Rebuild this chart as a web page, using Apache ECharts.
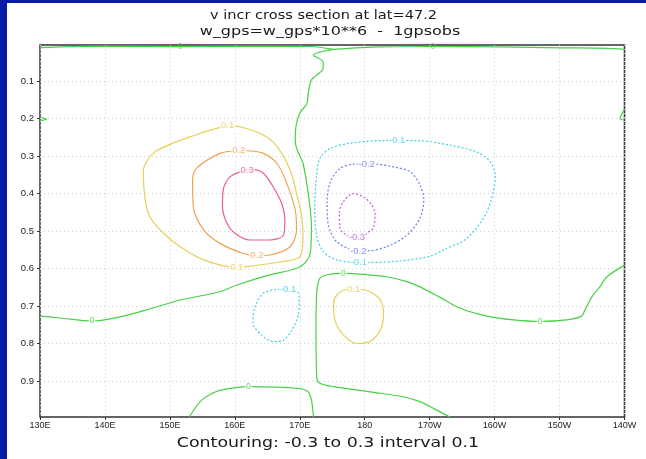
<!DOCTYPE html>
<html>
<head>
<meta charset="utf-8">
<script src="https://cdn.jsdelivr.net/npm/echarts@6/dist/echarts.min.js"></script>
<style>
  html, body { margin: 0; padding: 0; background: #fff; }
  #chart { width: 646px; height: 459px; }
</style>
</head>
<body>
<div id="chart"></div>
<script>
// Contour levels (interval 0.1) and the rainbow colour used for each level
const levels = [-0.3, -0.2, -0.1, 0, 0.1, 0.2, 0.3];
const levelColors = ['#c45ae4', '#6a7cf2', '#3ed0e4', '#46d246', '#e4d056', '#f0a252', '#ee5a94'];

// Axes: longitude (deg E, 130E..140W) and sigma level (0 at top)
const lonRange = [130, 220];
const lonStep = 10;
const sigmaRange = [0.004, 0.996];
const sigmaTicks = [0.1, 0.2, 0.3, 0.4, 0.5, 0.6, 0.7, 0.8, 0.9];

const titleLines = ['v incr cross section at lat=47.2', 'w_gps=w_gps*10**6  -  1gpsobs'];

// Contour paths as [longitude, sigma] pairs
const pos03 = [[161.8,0.337],[159.3,0.355],[158.2,0.391],[158.1,0.435],[158.8,0.480],[160.0,0.506],[162.3,0.524],
  [165.4,0.524],[167.5,0.511],[167.7,0.471],[167.2,0.426],[165.9,0.382],[164.4,0.346],[163.1,0.337],[161.8,0.337]];
const pos02 = [[160.3,0.286],[157.7,0.293],[154.1,0.333],[153.5,0.364],[153.6,0.435],[155.2,0.497],[157.7,0.533],
  [161.3,0.560],[163.4,0.566],[165.4,0.564],[168.5,0.542],[169.5,0.497],[169.3,0.444],[168.0,0.373],[166.5,0.320],
  [164.4,0.293],[161.8,0.286],[160.3,0.286]];
const pos01West = [[158.8,0.219],[154.6,0.240],[147.7,0.289],[145.9,0.342],[146.2,0.417],[146.9,0.462],[149.0,0.506],
  [151.6,0.542],[155.2,0.577],[160.2,0.597],[161.8,0.595],[167.0,0.582],[170.0,0.569],[170.5,0.515],[170.3,0.462],
  [169.5,0.400],[168.5,0.337],[166.5,0.275],[164.4,0.244],[160.8,0.222],[158.8,0.219]];
const pos01Low = [[178.2,0.656],[177.2,0.656],[175.7,0.671],[175.2,0.693],[175.4,0.737],[176.7,0.777],[178.8,0.800],
  [180.8,0.795],[182.4,0.764],[182.9,0.720],[182.4,0.684],[180.8,0.662],[179.5,0.656],[178.2,0.656]];
const neg01East = [[184.9,0.259],[182.9,0.259],[177.7,0.266],[174.7,0.280],[173.1,0.306],[172.6,0.351],[172.3,0.440],
  [172.6,0.511],[173.6,0.555],[175.7,0.577],[179.0,0.584],[180.3,0.584],[185.4,0.580],[190.1,0.567],[192.4,0.548],
  [195.7,0.520],[198.8,0.449],[200.1,0.351],[199.3,0.315],[197.2,0.289],[193.1,0.271],[188.0,0.259],[184.9,0.259]];
const neg01Low = [[168.2,0.655],[166.5,0.656],[164.4,0.666],[163.1,0.702],[162.8,0.746],[164.1,0.777],[165.9,0.795],
  [167.5,0.791],[168.8,0.764],[169.8,0.720],[169.9,0.675],[169.5,0.659],[168.5,0.655],[168.2,0.655]];
const neg02 = [[180.3,0.321],[178.2,0.322],[176.2,0.333],[174.7,0.369],[174.2,0.422],[174.4,0.484],[175.7,0.529],
  [179.0,0.553],[180.3,0.553],[183.4,0.542],[186.5,0.511],[188.5,0.466],[189.1,0.417],[188.5,0.377],[187.0,0.342],
  [184.4,0.329],[181.9,0.322],[180.3,0.321]];
const neg03 = [[178.8,0.518],[177.2,0.511],[176.2,0.493],[176.1,0.449],[176.7,0.422],[178.2,0.400],[179.8,0.409],
  [181.1,0.431],[181.6,0.457],[181.3,0.493],[180.3,0.506],[180.0,0.518],[178.8,0.518]];
const zeroTopWest = [[130,0.011],[139.2,0.007],[151.6,0.0085],[163.9,0.007],[171.6,0.008],[175.2,0.0155]];
const zeroTopEast = [[175.2,0.0155],[182.4,0.009],[190.5,0.008],[200.8,0.009],[210.1,0.0115],[217.2,0.0128],[220,0.0155]];
const zeroCentral = [[175.2,0.0155],[172.1,0.031],[173.6,0.049],[173.6,0.066],[171.8,0.097],[171.3,0.133],[171.1,0.160],
  [170.0,0.186],[169.4,0.223],[169.3,0.257],[169.6,0.284],[170.5,0.320],[171.3,0.400],[171.8,0.489],[171.6,0.560],
  [170.8,0.585],[169.5,0.600],[165.4,0.617],[160.3,0.644],[157.7,0.662],[151.6,0.684],[146.9,0.708],[142.3,0.729],
  [138.0,0.740],[133.1,0.732],[130,0.727]];
const zeroEast = [[220,0.591],[217.3,0.622],[216.2,0.649],[215.0,0.675],[213.9,0.711],[213.4,0.727],[211.1,0.737],
  [207.0,0.741],[202.9,0.737],[198.8,0.727],[194.7,0.706],[191.6,0.677],[188.5,0.649],[186.5,0.635],[183.4,0.622],
  [179.3,0.615],[176.7,0.613],[174.4,0.616],[173.1,0.626],[172.6,0.666],[172.5,0.755],[172.6,0.889],[173.1,0.906],
  [175.2,0.915],[180.8,0.929],[185.9,0.942],[188.5,0.955],[190.8,0.975],[193.1,0.996]];
const zeroBottom = [[153.0,0.996],[153.9,0.972],[154.9,0.951],[156.2,0.936],[157.7,0.925],[162.1,0.915],[170.0,0.920],
  [171.3,0.929],[171.8,0.951],[172.1,0.996]];
const zeroWestEdge = [[130,0.197],[131.0,0.202],[130,0.206]];
const zeroEastEdge = [[220,0.175],[219.5,0.191],[219.3,0.200],[220,0.204]];

// Where each contour carries its value label
const labels03 = [[161.9,0.337]];
const labels02 = [[160.6,0.286],[163.4,0.566]];
const labels01 = [[158.9,0.219],[160.3,0.597],[178.3,0.655]];
const labelsM01 = [[185.0,0.259],[179.1,0.584],[168.2,0.655]];
const labelsM02 = [[180.3,0.321],[179.0,0.553]];
const labelsM03 = [[178.8,0.518]];
const labels0 = [[151.6,0.0085],[190.5,0.008],[138.0,0.740],[207.0,0.741],[176.7,0.613],[162.1,0.915]];

const contourSets = [
  { level: 0,    paths: [zeroTopWest, zeroTopEast, zeroCentral, zeroEast, zeroBottom, zeroWestEdge, zeroEastEdge], labels: labels0 },
  { level: 0.1,  paths: [pos01West, pos01Low], labels: labels01 },
  { level: 0.2,  paths: [pos02], labels: labels02 },
  { level: 0.3,  paths: [pos03], labels: labels03 },
  { level: -0.1, paths: [neg01East, neg01Low], labels: labelsM01 },
  { level: -0.2, paths: [neg02], labels: labelsM02 },
  { level: -0.3, paths: [neg03], labels: labelsM03 }
];

function levelText(v) { return v === 0 ? '0' : v.toFixed(1); }
function lonText(v) {
  if (v < 180) return v + 'E';
  if (v === 180) return '180';
  return (360 - v) + 'W';
}

const series = [];
contourSets.forEach(function (set) {
  const color = levelColors[levels.indexOf(set.level)];
  set.paths.forEach(function (path) {
    series.push({
      type: 'line', data: path, smooth: 0.3, symbol: 'none', silent: true, z: 2,
      lineStyle: { color: color, width: 1.2, type: set.level < 0 ? [2, 2] : 'solid' }
    });
  });
  series.push({
    type: 'scatter', symbolSize: 0, silent: true, z: 3,
    data: set.labels.map(function (p) {
      return { value: p, label: { backgroundColor: p[1] < 0.05 ? 'transparent' : '#fff' } };
    }),
    label: {
      show: true, position: 'inside', formatter: function () { return levelText(set.level); },
      color: color, fontSize: set.level === 0 ? 8.5 : 9.5, fontFamily: '"Liberation Sans", Arial, sans-serif',
      padding: [0, 1]
    }
  });
});

const step = (levels[1] - levels[0]).toFixed(1);
const footText = 'Contouring: ' + levelText(levels[0]) + ' to ' + levelText(levels[levels.length - 1]) + ' interval ' + step;

const chart = echarts.init(document.getElementById('chart'), null, { renderer: 'canvas' });
chart.setOption({
  animation: false,
  backgroundColor: '#fff',
  grid: {
    left: 40, top: 45, right: 21.5, bottom: 42,
    show: true, borderColor: '#333', borderWidth: 1.5, backgroundColor: '#fff'
  },
  xAxis: {
    type: 'value', min: lonRange[0], max: lonRange[1], interval: lonStep,
    axisLine: { show: false },
    axisTick: { show: true, length: 3, lineStyle: { color: '#333' } },
    axisLabel: { formatter: lonText, fontSize: 9, color: '#222', margin: 4,
      fontFamily: '"Liberation Sans", Arial, sans-serif', showMinLabel: true, showMaxLabel: true },
    splitLine: { show: true, lineStyle: { color: '#cfcfcf', width: 1, type: [1, 3] } }
  },
  yAxis: {
    type: 'value', inverse: true, min: sigmaRange[0], max: sigmaRange[1],
    axisLine: { show: false },
    axisTick: { show: true, length: 3, customValues: sigmaTicks, lineStyle: { color: '#333' } },
    axisLabel: { customValues: sigmaTicks, formatter: function (v) { return v.toFixed(1); },
      fontSize: 9.5, color: '#222', margin: 6, fontFamily: '"Liberation Sans", Arial, sans-serif' },
    splitLine: { show: true, lineStyle: { color: '#cfcfcf', width: 1, type: [1, 3] } }
  },
  graphic: [
    { type: 'rect', silent: true, shape: { x: 0, y: 0, width: 7, height: 459 }, style: { fill: '#0b1aa6' } },
    { type: 'rect', silent: true, shape: { x: 0, y: 0, width: 646, height: 3 }, style: { fill: '#0b1aa6' } },
    { type: 'text', silent: true, x: 323.5, y: 16, scaleX: 1.12,
      style: { text: titleLines[0], font: '13px "DejaVu Sans"', fill: '#1a1a1a',
        align: 'center', verticalAlign: 'middle', textAlign: 'center', textVerticalAlign: 'middle' } },
    { type: 'text', silent: true, x: 330, y: 32, scaleX: 1.23,
      style: { text: titleLines[1], font: '13px "DejaVu Sans"', fill: '#1a1a1a',
        align: 'center', verticalAlign: 'middle', textAlign: 'center', textVerticalAlign: 'middle' } },
    { type: 'text', silent: true, x: 328, y: 443, scaleX: 1.24,
      style: { text: footText, font: '14px "DejaVu Sans"', fill: '#1a1a1a',
        align: 'center', verticalAlign: 'middle', textAlign: 'center', textVerticalAlign: 'middle' } }
  ],
  series: series
});
</script>
</body>
</html>
